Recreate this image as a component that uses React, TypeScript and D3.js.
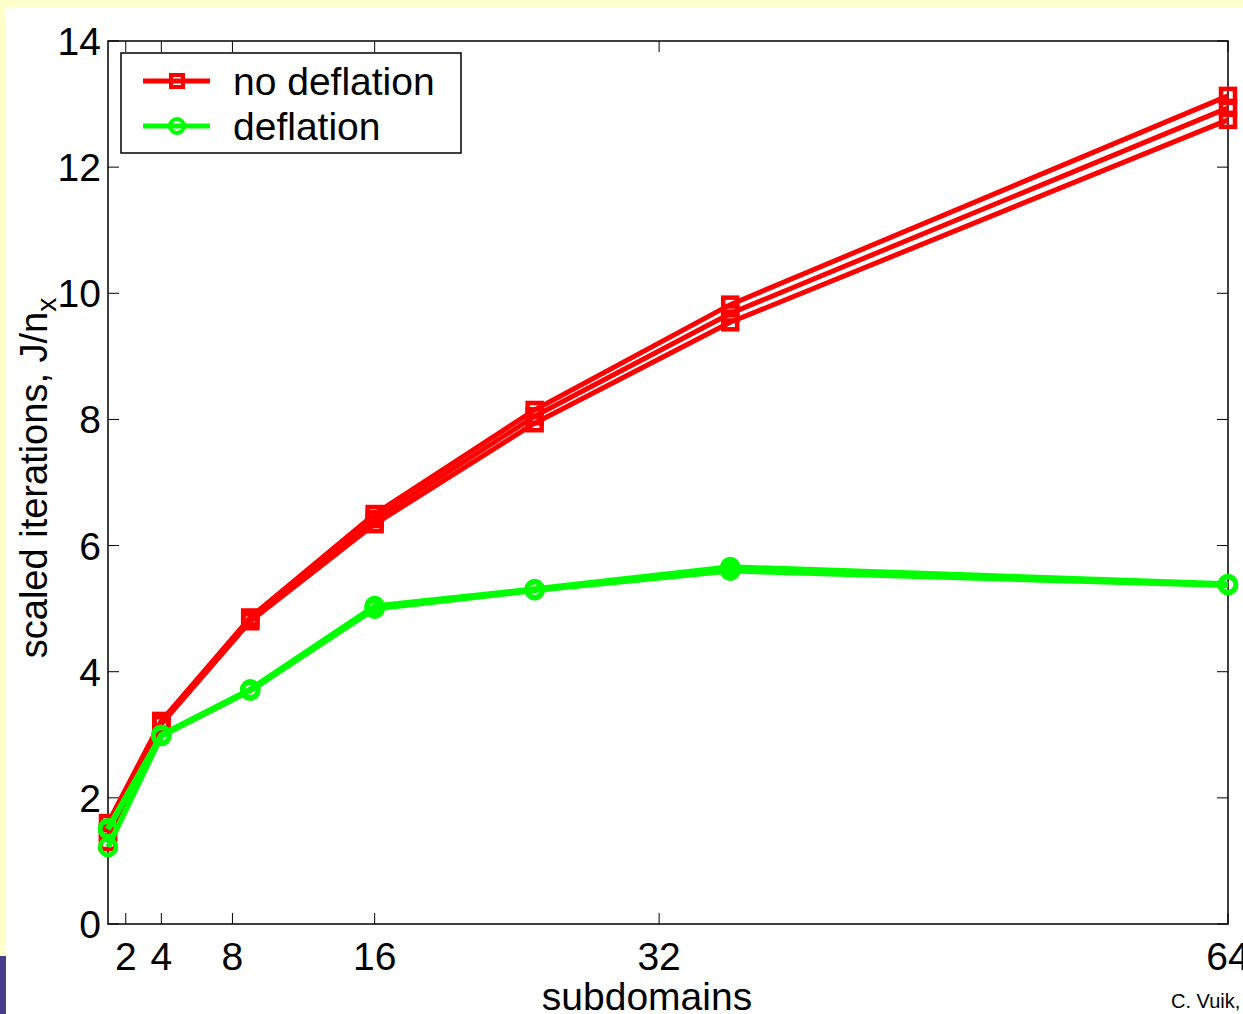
import React from 'react';
import * as d3 from 'd3';

const subdomains = [1, 4, 9, 16, 25, 36, 64];
const noDeflation = [
  [1.6, 3.22, 4.86, 6.5, 8.15, 9.82, 13.13],
  [1.45, 3.2, 4.83, 6.42, 8.05, 9.68, 12.94],
  [1.3, 3.17, 4.8, 6.34, 7.94, 9.54, 12.75],
];
const deflation = [
  [1.52, 3.0, 3.72, 5.04, 5.31, 5.66, 5.39],
  [1.5, 2.99, 3.71, 5.02, 5.3, 5.62, 5.38],
  [1.22, 2.98, 3.7, 5.0, 5.29, 5.6, 5.37],
];
const xTicks = [2, 4, 8, 16, 32, 64];
const yTicks = [0, 2, 4, 6, 8, 10, 12, 14];

const W = 1243;
const H = 1014;
const box = { left: 108, right: 1228, top: 41, bottom: 924 };
const font = '"Liberation Sans", Arial, sans-serif';
const RED = '#ff0000';
const GREEN = '#00ff00';

const App = () => {
  const x = d3.scaleLinear().domain([1, 64]).range([box.left, box.right]);
  const y = d3.scaleLinear().domain([0, 14]).range([box.bottom, box.top]);
  const line = d3.line<number>()
    .x((_, i) => x(subdomains[i]))
    .y(d => y(d));

  const tickLen = 11;
  const s = 7; // half side of square marker

  return (
    <svg width={W} height={H} style={{ position: 'absolute', left: 0, top: 0, fontFamily: font }}>
      <rect x={0} y={0} width={W} height={H} fill="#ffffff" />
      <rect x={0} y={0} width={W} height={7} fill="#ffffcc" />
      <rect x={0} y={0} width={6} height={956} fill="#ffffcc" />
      <rect x={0} y={956} width={6} height={H - 956} fill="#483d8b" />

      {/* axes box */}
      <rect x={box.left} y={box.top} width={box.right - box.left} height={box.bottom - box.top}
        fill="none" stroke="#000" strokeWidth={1.5} />

      {xTicks.map(t => (
        <g key={`xt-${t}`}>
          <line x1={x(t)} x2={x(t)} y1={box.bottom} y2={box.bottom - tickLen} stroke="#000" strokeWidth={1} />
          <line x1={x(t)} x2={x(t)} y1={box.top} y2={box.top + tickLen} stroke="#000" strokeWidth={1} />
          <text x={x(t)} y={970} textAnchor="middle" fontSize={39} fill="#000">{t}</text>
        </g>
      ))}
      {yTicks.map(t => (
        <g key={`yt-${t}`}>
          <line x1={box.left} x2={box.left + tickLen} y1={y(t)} y2={y(t)} stroke="#000" strokeWidth={1} />
          <line x1={box.right} x2={box.right - tickLen} y1={y(t)} y2={y(t)} stroke="#000" strokeWidth={1} />
          <text x={101} y={y(t) + 14} textAnchor="end" fontSize={39} fill="#000">{t}</text>
        </g>
      ))}

      {/* no deflation */}
      {noDeflation.map((series, k) => (
        <g key={`r-${k}`}>
          <path d={line(series) ?? ''} fill="none" stroke={RED} strokeWidth={5} />
          {series.map((v, i) => (
            <rect key={i} x={x(subdomains[i]) - s} y={y(v) - s} width={2 * s} height={2 * s}
              fill="none" stroke={RED} strokeWidth={4.5} />
          ))}
        </g>
      ))}

      {/* deflation */}
      {deflation.map((series, k) => (
        <g key={`g-${k}`}>
          <path d={line(series) ?? ''} fill="none" stroke={GREEN} strokeWidth={5.5} />
          {series.map((v, i) => (
            <circle key={i} cx={x(subdomains[i])} cy={y(v)} r={8} fill="none" stroke={GREEN} strokeWidth={4.5} />
          ))}
        </g>
      ))}

      {/* legend */}
      <rect x={121} y={53} width={340} height={100} fill="#fff" stroke="#000" strokeWidth={1.5} />
      <line x1={143} x2={210} y1={81} y2={81} stroke={RED} strokeWidth={5} />
      <rect x={171} y={75} width={12} height={12} fill="none" stroke={RED} strokeWidth={4} />
      <text x={233} y={95} fontSize={39} fill="#000">no deflation</text>
      <line x1={143} x2={210} y1={126} y2={126} stroke={GREEN} strokeWidth={5} />
      <circle cx={177} cy={126} r={7} fill="none" stroke={GREEN} strokeWidth={4} />
      <text x={233} y={140} fontSize={39} fill="#000">deflation</text>

      {/* axis labels */}
      <text x={647} y={1010} textAnchor="middle" fontSize={39} fill="#000">subdomains</text>
      <text transform={`translate(47, 478) rotate(-90)`} textAnchor="middle" fontSize={38} fill="#000">
        scaled iterations, J/n<tspan dy={9} fontSize={28}>x</tspan>
      </text>

      <text x={1171} y={1008} fontSize={20} fill="#000">C. Vuik, TU Delft</text>
    </svg>
  );
};

export default App;
